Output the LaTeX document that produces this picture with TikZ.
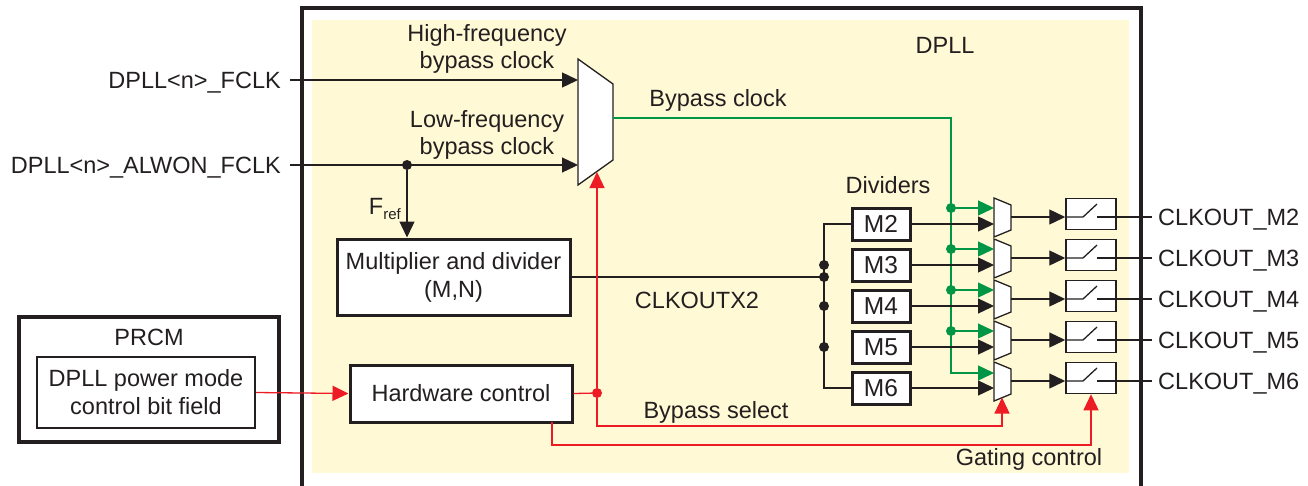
\documentclass[tikz,border=0pt]{standalone}
\usepackage{fontspec}
\setmainfont{Liberation Sans}
\usetikzlibrary{arrows.meta,calc}
\definecolor{dred}{RGB}{237,28,36}
\definecolor{dgreen}{RGB}{0,150,70}
\definecolor{dyellow}{RGB}{255,249,214}
\definecolor{ink}{RGB}{35,31,32}
\begin{document}
\begin{tikzpicture}[x=1pt,y=-1pt,
  txt/.style={font=\fontsize{23.5}{27}\selectfont, text=ink, inner sep=0pt, align=center},
  thickbox/.style={draw=ink, line width=3pt, fill=white, font=\fontsize{23.5}{28}\selectfont, text=ink, align=center, inner sep=0pt},
  mbox/.style={draw=ink, line width=3pt, fill=white, font=\fontsize{24.5}{24}\selectfont, text=ink, inner sep=0pt, minimum width=58pt, minimum height=32pt},
  swbox/.style={draw=ink, line width=1.5pt, fill=white, inner sep=0pt, minimum width=50pt, minimum height=31pt},
  muxst/.style={draw=ink, line width=1.3pt, fill=white, line join=miter},
  wire/.style={draw=ink, line width=1.3pt},
  rwire/.style={draw=dred, line width=1.3pt},
  gwire/.style={draw=dgreen, line width=1.3pt},
  tip/.style={-{Triangle[length=16pt,width=15pt]}},
  dot/.style={circle, fill=#1, inner sep=0pt, minimum size=10pt},
]
\useasboundingbox (0,0) rectangle (1308,485);
\clip (0,0) rectangle (1308,485);

% DPLL region
\fill[dyellow] (312,20) rectangle (1129,473);
\draw[ink, line width=4pt] (302,495) -- (302,8) -- (1141,8) -- (1141,495);
\node[txt] (dpll) at (945,45) {DPLL};

% inputs
\node[txt, anchor=base east] (lfclk) at (281,88) {DPLL<n>\_FCLK};
\node[txt, anchor=base east] (lalwon) at (281,173) {DPLL<n>\_ALWON\_FCLK};
\coordinate (fclk) at (290,80);
\coordinate (alwon) at (290,165);
\coordinate (bmA) at (578,80);
\coordinate (bmB) at (578,165);
\draw[wire,tip] (fclk) -- (bmA);
\draw[wire,tip] (alwon) -- (bmB);
\node[txt] (hfl) at (487,48.5) {High-frequency\\bypass clock};
\node[txt] (lfl) at (487,135) {Low-frequency\\bypass clock};

% big mux
\draw[muxst] (578,59) -- (613,84) -- (613,160) -- (578,185) -- cycle;
\coordinate (bmout) at (613,118);
\coordinate (bmbot) at (597,172);

% Fref and multiplier
\node[dot=ink] (frefdot) at (407,165) {};
\node[thickbox, minimum width=233pt, minimum height=76pt] (mult) at (453.5,277) {Multiplier and divider\\(M,N)};
\draw[wire,tip] (frefdot) -- (frefdot |- mult.north);
\node[txt, anchor=base east] (fref) at (401,214) {F\raisebox{-5pt}{\fontsize{15}{15}\selectfont ref}};

% Hardware control and PRCM
\node[thickbox, minimum width=222pt, minimum height=57pt] (hw) at (461,393.5) {Hardware control};
\node[draw=ink, line width=3.5pt, minimum width=260pt, minimum height=125pt, inner sep=0pt] (prcm) at (149,379.5) {};
\node[txt] (prcml) at (149,337) {PRCM};
\node[draw=ink, line width=2pt, fill=white, minimum width=218pt, minimum height=71pt, inner sep=0pt, font=\fontsize{23.5}{28}\selectfont, text=ink, align=center] (pin) at (146,392.5) {DPLL power mode\\control bit field};
\draw[rwire,tip] (pin.east) -- (hw.west);

% texts
\node[txt] (bpl) at (718,100) {Bypass clock};
\node[txt] (divl) at (888,185) {Dividers};
\node[txt] (ckx2) at (697,300) {CLKOUTX2};
\node[txt] (bsl) at (716,412) {Bypass select};
\node[txt] (gcl) at (1029,459) {Gating control};

% green bypass clock
\coordinate (gcorner) at (951,373);
\coordinate (mg6) at (994,373);
\draw[gwire,tip] (bmout) -| (gcorner) -- (mg6);

% bus
\coordinate (bustop) at (824,224);
\coordinate (busbot) at (824,388);
\coordinate (busx) at (824,277);
\draw[wire] (mult.east |- busx) -- (busx);

% rows
\foreach \i/\r in {2/217,3/258,4/299,5/340,6/381}{
  \node[mbox] (M\i) at (881,{\r+7}) {M\i};
  \coordinate (mb\i) at (994,{\r+7});
  \coordinate (mg\i) at (994,{\r-9});
  \coordinate (mo\i) at (1011,\r);
  \coordinate (out\i) at (1152,\r);
  \draw[wire,tip] (M\i.east) -- (mb\i);
  \draw[muxst] (994,{\r-19}) -- (1011,{\r-12}) -- (1011,{\r+13}) -- (994,{\r+20}) -- cycle;
  \node[swbox] (sw\i) at (1091,{\r-3}) {};
  \draw[wire,tip] (mo\i) -- (sw\i.west |- mo\i);
  \draw[wire] (sw\i.west |- mo\i) -- (1083,\r) -- (1097,{\r-13});
  \draw[wire] (1097,\r) -- (out\i);
  \node[txt, anchor=base west] (lab\i) at (1158,{\r+8}) {CLKOUT\_M\i};
}
\draw[wire] (M2.west) -| (busbot) -- (M6.west);
\foreach \i/\r in {2/217,3/258,4/299,5/340}{
  \coordinate (gd\i) at (951,{\r-9});
  \draw[gwire,tip] (gd\i) -- (mg\i);
  \node[dot=dgreen] (gdot\i) at (gd\i) {};
}
\foreach \i in {3,4,5}{
  \node[dot=ink] (bdot\i) at (busx |- M\i.west) {};
}
\node[dot=ink] (bdotx) at (busx) {};

% red control
\node[dot=dred] (rdot) at (597,393) {};
\draw[rwire] (hw.east) -- (rdot);
\draw[rwire,tip] (rdot) -- (bmbot);
\coordinate (bsel) at (1002,426);
\coordinate (m6bot) at (1002,397.5);
\draw[rwire,tip] (rdot) |- (bsel) -- (m6bot);
\coordinate (hwg) at (552,422);
\coordinate (gate) at (1091,445);
\draw[rwire,tip] (hwg) |- (gate) -- (sw6.south);
\end{tikzpicture}
\end{document}
